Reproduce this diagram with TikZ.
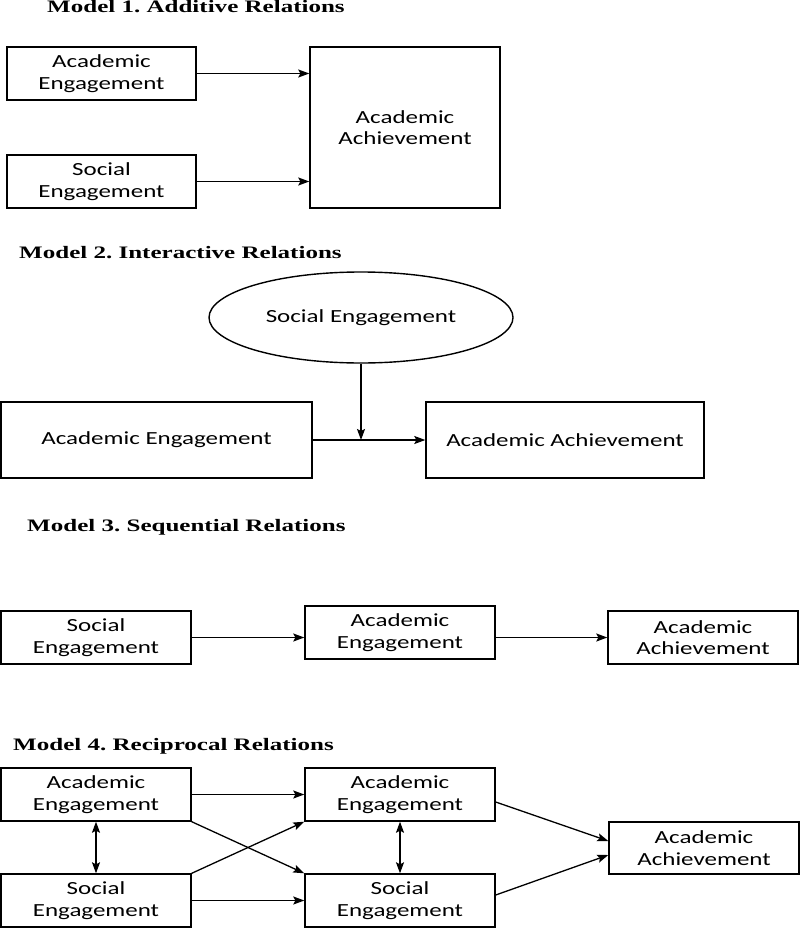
\documentclass[tikz,border=0pt]{standalone}
\usepackage{fontspec}
\setmainfont{Carlito}[FakeStretch=1.35]
\newfontfamily\mytitlefont{Liberation Serif}[FakeStretch=1.43]
\usetikzlibrary{arrows.meta,shapes.geometric}
\newcommand\mybodyfont{\fontsize{18.5}{21.5}\selectfont}
\newcommand\myheadfont{\mytitlefont\bfseries\fontsize{17.5}{20}\selectfont}
\frenchspacing
\begin{document}
\begin{tikzpicture}[x=1pt,y=-1pt,
  box/.style={draw, line width=1.4pt, rectangle, inner sep=0pt, align=center, font=\mybodyfont},
  sbox/.style={box, minimum width=190pt, minimum height=53pt},
  oval/.style={draw, line width=1.4pt, ellipse, inner sep=0pt, font=\mybodyfont},
  head/.style={anchor=base west, inner sep=0pt, font=\myheadfont},
  arr/.style={line width=1.3pt, -{Stealth[length=11pt,width=8pt,inset=2pt]}},
  darr/.style={line width=1.3pt, {Stealth[length=11pt,width=8pt,inset=2pt]}-{Stealth[length=11pt,width=8pt,inset=2pt]}}]
\useasboundingbox (0,0) rectangle (800,928);
\fill[white] (0,0) rectangle (800,928);

% Model 1
\node[head] (t1) at (47,13) {Model 1. Additive Relations};
\node[sbox, minimum width=189pt] (ae1) at (101.5,73.5) {Academic\\Engagement};
\node[sbox, minimum width=189pt] (se1) at (101.5,181.5) {Social\\Engagement};
\node[box, minimum width=190pt, minimum height=161pt] (aa1) at (405,127.5) {Academic\\Achievement};
\draw[arr] (ae1.east) -- (ae1.east -| aa1.west);
\draw[arr] (se1.east) -- (se1.east -| aa1.west);

% Model 2
\node[head] (t2) at (19,258) {Model 2. Interactive Relations};
\node[oval, minimum width=304pt, minimum height=91pt] (se2) at (361,317.5) {Social Engagement};
\node[box, minimum width=311pt, minimum height=76pt] (ae2) at (156.5,440) {Academic Engagement};
\node[box, minimum width=278pt, minimum height=76pt] (aa2) at (565,440) {Academic Achievement};
\draw[arr] (ae2.east) -- (aa2.west);
\coordinate (mid2) at (se2.south |- ae2.east);
\draw[arr] (se2.south) -- (mid2);

% Model 3
\node[head] (t3) at (27,531) {Model 3. Sequential Relations};
\node[sbox] (se3) at (96,637.5) {Social\\Engagement};
\node[sbox] (ae3) at (400,632.5) {Academic\\Engagement};
\node[sbox] (aa3) at (703,637.5) {Academic\\Achievement};
\draw[arr] (se3.east) -- (se3.east -| ae3.west);
\draw[arr] (ae3.east |- aa3.west) -- (aa3.west);

% Model 4
\node[head] (t4) at (13,750) {Model 4. Reciprocal Relations};
\node[sbox] (ae4a) at (96,794.5) {Academic\\Engagement};
\node[sbox] (se4a) at (96,900.5) {Social\\Engagement};
\node[sbox] (ae4b) at (400,794.5) {Academic\\Engagement};
\node[sbox] (se4b) at (400,900.5) {Social\\Engagement};
\node[sbox, minimum height=52pt] (aa4) at (704,848) {Academic\\Achievement};
\draw[arr] (ae4a.east) -- (ae4b.west);
\draw[arr] (se4a.east) -- (se4b.west);
\draw[arr] (ae4a.south east) -- (se4b.north west);
\draw[arr] (se4a.north east) -- (ae4b.south west);
\draw[darr] (ae4a.south) -- (se4a.north);
\draw[darr] (ae4b.south) -- (se4b.north);
\draw[arr] ([yshift=-7.5pt]ae4b.east) -- ([yshift=7pt]aa4.west);
\draw[arr] ([yshift=5.5pt]se4b.east) -- ([yshift=-7pt]aa4.west);
\end{tikzpicture}
\end{document}
